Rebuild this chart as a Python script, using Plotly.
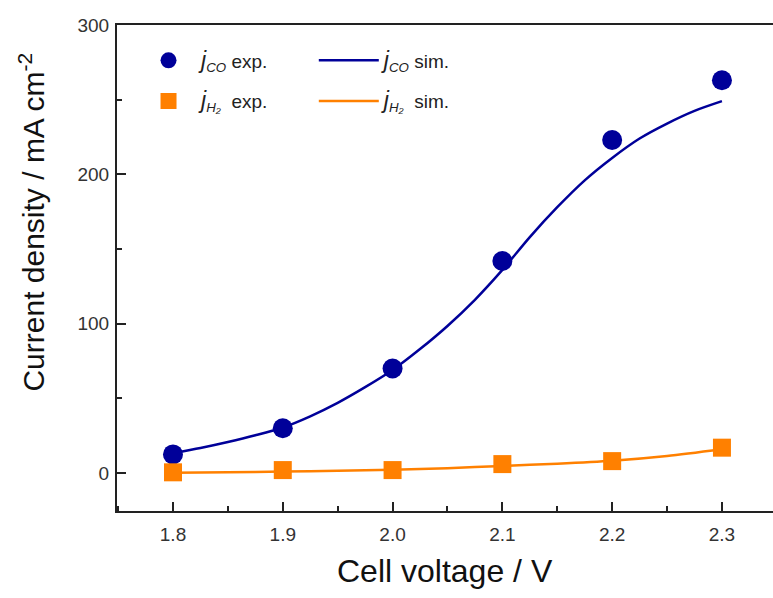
import plotly.graph_objects as go

# Experimental data
voltage_exp = [1.8, 1.9, 2.0, 2.1, 2.2, 2.3]
j_co_exp = [12.5, 30, 70, 142, 223, 263]
j_h2_exp = [0.5, 2, 2, 6, 8, 17]

# Simulated curves
voltage_sim = [1.8, 1.825, 1.85, 1.875, 1.9, 1.925, 1.95, 1.975, 2.0, 2.025, 2.05,
               2.075, 2.1, 2.125, 2.15, 2.175, 2.2, 2.225, 2.25, 2.275, 2.3]
j_co_sim = [13.4, 16.8, 20.8, 25.3, 30.5, 38, 47, 57.5, 69, 83, 98.5,
            116, 136, 158, 178, 196, 211, 224, 234, 242.5, 249]
voltage_sim_h2 = [1.8, 1.85, 1.9, 1.95, 2.0, 2.05, 2.1, 2.15, 2.2, 2.25, 2.3]
j_h2_sim = [0.2, 0.5, 1.0, 1.5, 2.2, 3.3, 4.8, 6.3, 8.3, 11.5, 16]

x_ticks = [1.8, 1.9, 2.0, 2.1, 2.2, 2.3]
x_tick_labels = ["1.8", "1.9", "2.0", "2.1", "2.2", "2.3"]
y_ticks = [0, 100, 200, 300]

NAVY = "#000099"
ORANGE = "#FF8000"
FONT = "Liberation Sans, Arial, sans-serif"
J = "<span style='font-size:23px'><i>j</i></span>"

fig = go.Figure()

fig.add_trace(go.Scatter(
    x=voltage_sim, y=j_co_sim, mode="lines", line=dict(color=NAVY, width=2.5, shape="spline", smoothing=0.8),
    name=J + "<sub><i>CO</i></sub> sim.", legend="legend2", legendgroup="s1"))
fig.add_trace(go.Scatter(
    x=voltage_sim_h2, y=j_h2_sim, mode="lines", line=dict(color=ORANGE, width=2.5, shape="spline", smoothing=0.8),
    name=J + "<sub><i>H₂</i></sub>  sim.", legend="legend2", legendgroup="s2"))
fig.add_trace(go.Scatter(
    x=voltage_exp, y=j_co_exp, mode="markers", marker=dict(color=NAVY, size=20, symbol="circle"),
    name=J + "<sub><i>CO</i></sub> exp.", legend="legend", legendgroup="e1"))
fig.add_trace(go.Scatter(
    x=voltage_exp, y=j_h2_exp, mode="markers", marker=dict(color=ORANGE, size=18, symbol="square"),
    name=J + "<sub><i>H₂</i></sub>  exp.", legend="legend", legendgroup="e2"))

fig.update_layout(
    width=773, height=598,
    margin=dict(l=117, r=0, t=25, b=87),
    paper_bgcolor="white", plot_bgcolor="white",
    font=dict(family=FONT, color="#222222"),
    legend=dict(x=0.029, y=0.966, xanchor="left", yanchor="top", bgcolor="rgba(0,0,0,0)",
                font=dict(size=19, color="#222222"), itemwidth=55, traceorder="grouped",
                tracegroupgap=13),
    legend2=dict(x=0.30, y=0.966, xanchor="left", yanchor="top", bgcolor="rgba(0,0,0,0)",
                 font=dict(size=19, color="#222222"), itemwidth=60, traceorder="grouped",
                 tracegroupgap=13),
    xaxis=dict(
        range=[1.749, 2.3465], tickvals=x_ticks, ticktext=x_tick_labels,
        ticks="inside", ticklen=9, tickwidth=1.5, tickcolor="#222222",
        minor=dict(ticks="inside", ticklen=5, dtick=0.05, tick0=1.8, tickcolor="#222222", tickwidth=1.5),
        showline=True, linecolor="#222222", linewidth=2, mirror=True,
        showgrid=False, zeroline=False, automargin=False,
        tickfont=dict(size=19, color="#333333"), ticklabelstandoff=5,
    ),
    yaxis=dict(
        range=[-25.4, 300], tickvals=y_ticks,
        ticks="inside", ticklen=9, tickwidth=1.5, tickcolor="#222222",
        minor=dict(ticks="inside", ticklen=5, dtick=50, tick0=0, tickcolor="#222222", tickwidth=1.5),
        showline=True, linecolor="#222222", linewidth=2, mirror=False,
        showgrid=False, zeroline=False, automargin=False,
        tickfont=dict(size=19, color="#333333"), ticklabelstandoff=2,
    ),
    annotations=[
        dict(text="Cell voltage / V", xref="paper", yref="paper", x=0.5, y=-0.123,
             xanchor="center", yanchor="middle", showarrow=False,
             font=dict(size=32, color="#111111")),
        dict(text="Current density / mA cm<sup>-2</sup>", xref="paper", yref="paper",
             x=-0.13, y=0.595, xanchor="center", yanchor="middle", textangle=-90,
             showarrow=False, font=dict(size=30, color="#111111")),
    ],
)

fig.write_html("out.html", config={"displayModeBar": False},
               post_script="document.body.style.margin='0px';")
